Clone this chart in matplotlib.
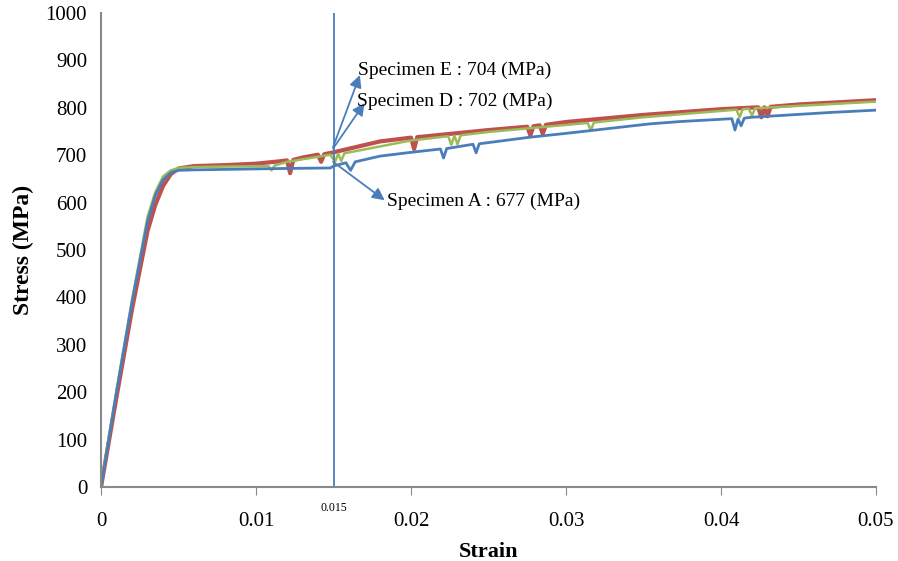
import numpy as np
import matplotlib.pyplot as plt

plt.rcParams['font.family'] = ['Liberation Serif', 'DejaVu Serif']

# Specimen A (blue)
strain_a = [0, 0.0002, 0.001, 0.002, 0.003, 0.0035, 0.004, 0.0045, 0.005, 0.006,
            0.008, 0.010, 0.012, 0.0148, 0.015, 0.0158, 0.0161, 0.0164, 0.018,
            0.020, 0.0219, 0.0221, 0.0223, 0.0240, 0.0242, 0.0244, 0.0277,
            0.030, 0.0354, 0.0374, 0.0407, 0.0409, 0.0411, 0.0413, 0.0415,
            0.0417, 0.042, 0.045, 0.047, 0.050]
stress_a = [0, 40, 200, 390, 560, 615, 648, 663, 668, 669,
            670, 671, 672, 673, 677, 684, 668, 686, 698,
            706, 713, 694, 714, 723, 705, 724, 738,
            746, 766, 771, 777, 753, 776, 762, 778,
            779, 780, 786, 790, 795]

# Specimen D (green)
strain_d = [0, 0.0002, 0.001, 0.002, 0.003, 0.0035, 0.004, 0.0045, 0.005, 0.006,
            0.008, 0.0108, 0.0110, 0.0112, 0.012, 0.0148, 0.0151, 0.0153, 0.0155,
            0.0157, 0.020, 0.0224, 0.0226, 0.0228, 0.0230, 0.0232, 0.025, 0.0314,
            0.0316, 0.0318, 0.035, 0.0410, 0.0412, 0.0414, 0.0418, 0.0420,
            0.0422, 0.045, 0.050]
stress_d = [0, 45, 205, 395, 570, 622, 655, 668, 673, 675,
            676, 677, 668, 678, 686, 701, 686, 703, 688,
            704, 731, 740, 722, 741, 723, 742, 749, 768,
            752, 769, 780, 796, 780, 797, 798, 783,
            799, 804, 813]

# Specimen E (red)
strain_e = [0, 0.0002, 0.001, 0.002, 0.003, 0.0035, 0.004, 0.0045, 0.005, 0.006,
            0.008, 0.010, 0.0115, 0.0120, 0.0122, 0.0124, 0.013, 0.0140, 0.0142,
            0.0144, 0.015, 0.018, 0.0200, 0.0202, 0.0204, 0.025, 0.0275, 0.0277,
            0.0279, 0.0283, 0.0285, 0.0287, 0.030, 0.035, 0.040, 0.0424, 0.0426,
            0.0428, 0.0430, 0.0432, 0.045, 0.050]
stress_e = [0, 38, 190, 375, 540, 595, 635, 660, 672, 677,
            679, 682, 687, 689, 662, 690, 695, 701, 686,
            702, 706, 729, 737, 713, 738, 753, 760, 742,
            761, 763, 745, 764, 770, 785, 797, 801, 780,
            801, 782, 802, 807, 816]

xticks = [0, 0.01, 0.02, 0.03, 0.04, 0.05]
xtick_labels = ['0', '0.01', '0.02', '0.03', '0.04', '0.05']
yticks = list(range(0, 1001, 100))

blue = '#4a7ebb'
fig = plt.figure(figsize=(8.98, 5.61), dpi=100)
ax = fig.add_axes([0.1125, 0.1319, 0.863, 0.845])

ax.plot(strain_e, stress_e, color='#c0504d', lw=3.0)
ax.plot(strain_d, stress_d, color='#9bbb59', lw=1.8)
ax.plot(strain_a, stress_a, color=blue, lw=2.0)

ax.axvline(0.015, color=blue, lw=1.3)

# annotation arrows and labels
arrow = dict(arrowstyle='-|>', color=blue, lw=1.3, mutation_scale=18,
             shrinkA=0, shrinkB=0)
ax.annotate('', xy=(0.0167, 869), xytext=(0.01497, 717), arrowprops=arrow)
ax.annotate('', xy=(0.0170, 810), xytext=(0.01497, 714), arrowprops=arrow)
ax.annotate('', xy=(0.0183, 605), xytext=(0.01497, 686), arrowprops=arrow)
ax.text(0.01658, 878, 'Specimen E : 704 (MPa)', fontsize=14, va='center', ha='left')
ax.text(0.01652, 814, 'Specimen D : 702 (MPa)', fontsize=14, va='center', ha='left')
ax.text(0.01845, 603, 'Specimen A : 677 (MPa)', fontsize=14, va='center', ha='left')

ax.set_xlim(0, 0.05)
ax.set_ylim(0, 1000)
ax.set_xticks(xticks)
ax.set_xticklabels(xtick_labels)
ax.set_yticks(yticks)
ax.tick_params(axis='x', length=6, color='#898989', labelsize=15, pad=12, direction='out')
ax.tick_params(axis='y', length=0, labelsize=15, pad=10)

ax.text(0.015, -0.045, '0.015', transform=ax.get_xaxis_transform(),
        fontsize=8.5, ha='center', va='center')

ax.set_xlabel('Strain', fontsize=16, fontweight='bold', labelpad=8)
ax.set_ylabel('Stress (MPa)', fontsize=17, fontweight='bold', labelpad=8)

for s in ['top', 'right']:
    ax.spines[s].set_visible(False)
for s in ['left', 'bottom']:
    ax.spines[s].set_color('#898989')
    ax.spines[s].set_linewidth(1.5)

fig.savefig('out.png', dpi=100)
